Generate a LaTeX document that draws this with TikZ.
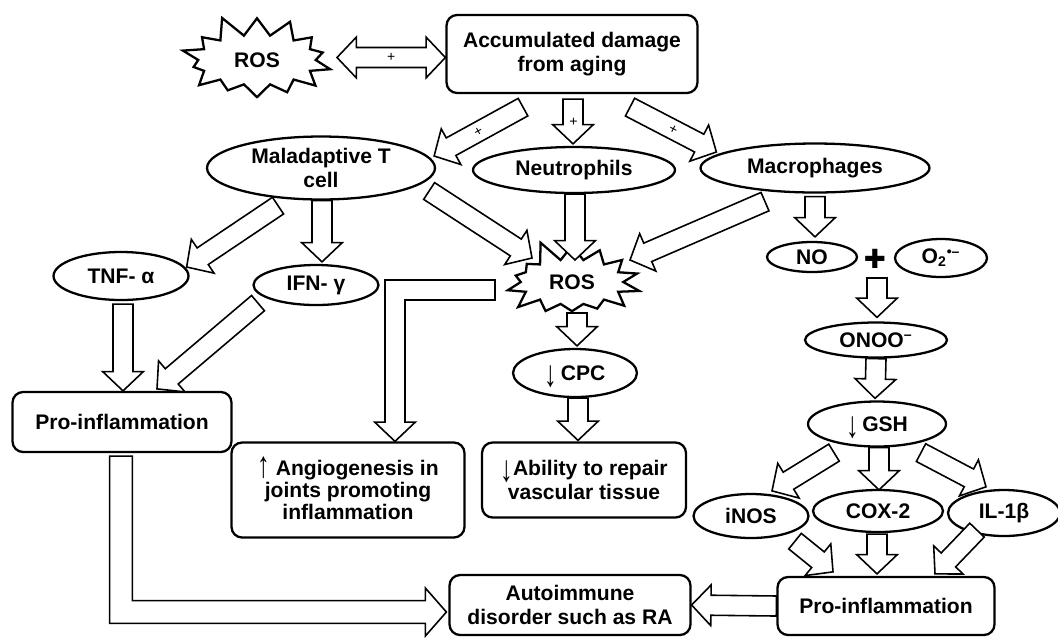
\documentclass[tikz,border=0pt]{standalone}
\usepackage{fontspec}
\setmainfont{Liberation Sans}
\newfontfamily\symfont{DejaVu Sans}
\usetikzlibrary{calc,shapes.geometric,shapes.symbols}

\newcommand{\shaftw}{5.7pt}
\newcommand{\headw}{11.6pt}
\newcommand{\headl}{11pt}
\newcommand{\dn}{\smash{\raisebox{-3.5pt}{\scalebox{1.2}[1.75]{↓}}}}
\newcommand{\up}{\smash{\raisebox{-1pt}{\scalebox{1.2}[1.75]{↑}}}}

% block arrow from #2 to #3, label #1
\newcommand{\barrow}[3][]{%
  \draw[blk] let \p1=#2, \p2=#3, \p3=($(\p2)!\headl!(\p1)$) in
    ($(\p1)!\shaftw!90:(\p2)$) -- ($(\p3)!\shaftw!90:(\p2)$)
    -- ($(\p3)!\headw!90:(\p2)$) -- (\p2)
    -- ($(\p3)!\headw!-90:(\p2)$) -- ($(\p3)!\shaftw!-90:(\p2)$)
    -- ($(\p1)!\shaftw!-90:(\p2)$) -- cycle;
  \path #2 -- #3 node[midway, sloped, pluslbl] {#1};
}
% block arrow with two heads
\newcommand{\dbarrow}[3][]{%
  \draw[blk] let \p1=#2, \p2=#3, \p3=($(\p1)!\headl!(\p2)$), \p4=($(\p2)!\headl!(\p1)$) in
    (\p1) -- ($(\p3)!\headw!90:(\p2)$) -- ($(\p3)!\shaftw!90:(\p2)$)
    -- ($(\p4)!\shaftw!90:(\p2)$) -- ($(\p4)!\headw!90:(\p2)$) -- (\p2)
    -- ($(\p4)!\headw!-90:(\p2)$) -- ($(\p4)!\shaftw!-90:(\p2)$)
    -- ($(\p3)!\shaftw!-90:(\p2)$) -- ($(\p3)!\headw!-90:(\p2)$) -- cycle;
  \path #2 -- #3 node[midway, pluslbl] {#1};
}

\begin{document}
\begin{tikzpicture}[x=0.02cm, y=-0.02cm,
    every node/.style={font=\fontsize{12}{14}\selectfont\bfseries},
    box/.style={draw, line width=1.3pt, rounded corners=6pt, align=center, inner sep=1pt},
    oval/.style={draw, ellipse, line width=1.3pt, align=center, inner sep=0pt},
    burst/.style={draw, starburst, line width=1.3pt, starburst points=14,
      starburst point height=0.45cm, inner sep=1pt},
    blk/.style={draw, fill=white, line width=0.9pt, line join=miter},
    pluslbl/.style={font=\fontsize{8}{8}\selectfont, inner sep=0pt}]
    \useasboundingbox (0,0) rectangle (1058,637);

    % Nodes
    \node[burst, random starburst=11, minimum width=3.25cm, minimum height=1.9cm] (ros1) at (257,60) {ROS};
    \node[box, minimum width=5.02cm, minimum height=1.56cm] (acc) at (572,54) {Accumulated damage\\from aging};
    \node[oval, minimum width=4.56cm, minimum height=1.26cm] (mal) at (321,168) {Maladaptive T\\cell};
    \node[oval, minimum width=4.04cm, minimum height=0.92cm] (neu) at (574,170) {Neutrophils};
    \node[oval, minimum width=4.58cm, minimum height=0.98cm] (mac) at (815,168) {Macrophages};
    \node[oval, minimum width=2.7cm, minimum height=0.96cm] (tnf) at (121,276) {TNF- α};
    \node[oval, minimum width=2.5cm, minimum height=0.8cm] (ifn) at (316,285) {IFN- γ};
    \node[burst, random starburst=5, minimum width=2.95cm, minimum height=1.8cm] (ros2) at (572,282) {ROS};
    \node[oval, minimum width=1.8cm, minimum height=0.6cm] (no) at (812,257) {NO};
    \node (plus) at (875,259) {\symfont\fontsize{15}{15}\selectfont ✚};
    \node[oval, minimum width=1.84cm, minimum height=0.76cm] (oo) at (941,258) {O\textsubscript{2}\textsuperscript{•–}};
    \node[oval, minimum width=2.84cm, minimum height=0.7cm] (onoo) at (876,340) {ONOO\textsuperscript{–}};
    \node[oval, minimum width=2.48cm, minimum height=0.96cm] (cpc) at (575,373) {\dn\,CPC};
    \node[oval, minimum width=2.76cm, minimum height=0.9cm] (gsh) at (877,424) {\dn\,GSH};
    \node[box, minimum width=4.38cm, minimum height=1.2cm] (pro1) at (122,422) {Pro-inflammation};
    \node[box, minimum width=4.66cm, minimum height=1.9cm, font=\fontsize{12}{12.6}\selectfont\bfseries] (angio) at (348,490) {\up\ Angiogenesis in\\joints promoting\\inflammation};
    \node[box, minimum width=4.08cm, minimum height=1.5cm] (abil) at (584,480) {\dn Ability to repair\\vascular tissue};
    \node[oval, minimum width=2.3cm, minimum height=0.88cm] (inos) at (751,516) {iNOS};
    \node[oval, minimum width=2.6cm, minimum height=0.84cm] (cox) at (878,511) {COX-2};
    \node[oval, minimum width=2.24cm, minimum height=0.92cm] (il) at (1004,513) {IL-1β};
    \node[box, minimum width=4.34cm, minimum height=1.16cm] (pro2) at (886,606) {Pro-inflammation};
    \node[box, minimum width=4.82cm, minimum height=1.2cm] (auto) at (570,605) {Autoimmune\\disorder such as RA};

    % Arrows
    \dbarrow[+]{($(ros1.center)+(80,-2.5)$)}{($(acc.west)+(0,3.5)$)}
    \barrow[+]{($(acc.south)+(-49,13)$)}{($(mal.east)+(-2,-12)$)}
    \barrow[+]{($(acc.south)+(1,5)$)}{($(neu.north)+(-1,-2)$)}
    \barrow[+]{($(acc.south)+(58,13)$)}{($(mac.west)+(17,-16)$)}
    \barrow{($(mal.south)+(-43,5)$)}{($(tnf.east)+(-3,-9)$)}
    \barrow{($(mal.south)+(1,0)$)}{($(ifn.north)+(6,-2)$)}
    \barrow{($(mal.east)+(-7,23)$)}{($(ros2.center)+(-40,-24)$)}
    \barrow{($(neu.south)+(1,0)$)}{($(ros2.center)+(3,-22)$)}
    \barrow{($(mac.south)+(-50,8)$)}{($(ros2.center)+(58,-22)$)}
    \barrow{($(mac.south)+(0,3)$)}{($(no.north)+(3,-4)$)}
    \barrow{($(tnf.south)+(2,3)$)}{($(pro1.north)+(1,0)$)}
    \barrow{($(ifn.south)+(-58,-3)$)}{($(pro1.north)+(35,-2)$)}
    \barrow{($(plus)+(2,19)$)}{($(onoo.north)+(1,-4)$)}
    \barrow{(onoo.south)}{($(gsh.north)+(-2,-2)$)}
    \barrow{($(ros2.center)+(5,31)$)}{($(cpc.north)+(2,-2)$)}
    \barrow{($(cpc.south)+(3,0)$)}{($(abil.north)+(-6,-1)$)}
    \barrow{($(gsh.south)+(-43,5)$)}{($(inos.north)+(21,-2)$)}
    \barrow{($(gsh.south)+(2,0)$)}{($(cox.north)+(1,1)$)}
    \barrow{($(gsh.south)+(44,5)$)}{($(il.north)+(-18,-2)$)}
    \barrow{($(inos.south)+(44,2)$)}{($(pro2.north)+(-53,-4)$)}
    \barrow{($(cox.south)+(-1,1)$)}{($(pro2.north)+(-9,-2)$)}
    \barrow{($(il.south)+(-27,-7)$)}{($(pro2.north)+(49,-2)$)}
    \barrow{(pro2.west)}{(auto.east)}

    % Bent arrows
    \draw[blk] let \p1=($(ros2.center)+(-77,8)$), \p2=($(angio.north)+(47,0)$) in
      (\x1,\y1+\shaftw) -- (\x2-\shaftw,\y1+\shaftw) -- (\x2-\shaftw,\y2+\headl)
      -- (\x2-\headw,\y2+\headl) -- (\p2) -- (\x2+\headw,\y2+\headl)
      -- (\x2+\shaftw,\y2+\headl) -- (\x2+\shaftw,\y1-\shaftw) -- (\x1,\y1-\shaftw) -- cycle;
    \draw[blk] let \p1=($(pro1.south)+(-1,3)$), \p2=($(auto.west)+(-2,7)$) in
      (\x1-6.5pt,\y1) -- (\x1-6.5pt,\y2-6.5pt) -- (\x2-12pt,\y2-6.5pt)
      -- (\x2-12pt,\y2-13.7pt) -- (\p2) -- (\x2-12pt,\y2+13.7pt)
      -- (\x2-12pt,\y2+6.5pt) -- (\x1+6.5pt,\y2+6.5pt) -- (\x1+6.5pt,\y1) -- cycle;
\end{tikzpicture}
\end{document}
